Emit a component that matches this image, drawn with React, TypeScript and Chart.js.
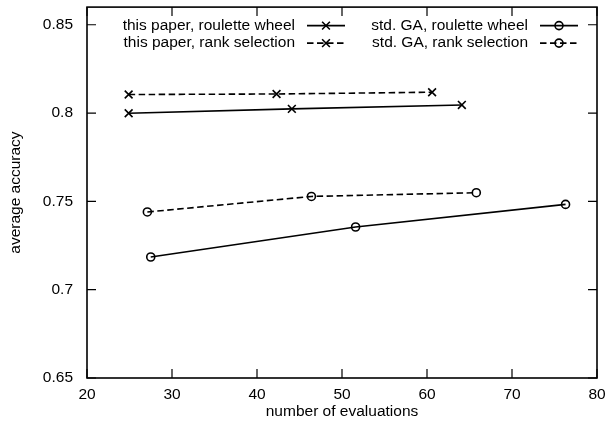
import React, { useEffect, useRef } from 'react';
import { Chart, registerables } from 'chart.js';

Chart.register(...registerables);

const seriesLabels = [
  'this paper, roulette wheel',
  'this paper, rank selection',
  'std. GA, roulette wheel',
  'std. GA, rank selection',
];
const paperRouletteX = [24.9, 44.1, 64.1];
const paperRouletteY = [0.7999, 0.8024, 0.8046];
const paperRankX = [24.9, 42.3, 60.6];
const paperRankY = [0.8105, 0.8108, 0.8118];
const gaRouletteX = [27.5, 51.6, 76.3];
const gaRouletteY = [0.7185, 0.7355, 0.7483];
const gaRankX = [27.1, 46.4, 65.8];
const gaRankY = [0.744, 0.7528, 0.7549];
const xTicks = [20, 30, 40, 50, 60, 70, 80];
const yTicks = [0.65, 0.7, 0.75, 0.8, 0.85];
const xTitle = 'number of evaluations';
const yTitle = 'average accuracy';

const FONT = '"Liberation Sans", Arial, Helvetica, sans-serif';
const FS = 15.5;
const DASH = [6.5, 3.5];

function pts(xs: number[], ys: number[]) {
  return xs.map((x, i) => ({ x, y: ys[i] }));
}

function drawMarker(ctx: CanvasRenderingContext2D, style: string, r: number, x: number, y: number) {
  ctx.beginPath();
  if (style === 'circle') {
    ctx.arc(x, y, r, 0, Math.PI * 2);
  } else {
    const d = r * Math.SQRT1_2;
    ctx.moveTo(x - d, y - d);
    ctx.lineTo(x + d, y + d);
    ctx.moveTo(x - d, y + d);
    ctx.lineTo(x + d, y - d);
  }
  ctx.stroke();
}

const framePlugin = {
  id: 'gnuFrame',
  beforeDatasetsDraw(chart: any) {
    const { ctx, chartArea: a, scales } = chart;
    const tl = 9;
    ctx.save();
    ctx.strokeStyle = '#000';
    ctx.lineWidth = 1.2;
    ctx.beginPath();
    scales.x.ticks.forEach((t: any) => {
      const px = scales.x.getPixelForValue(t.value);
      ctx.moveTo(px, a.bottom);
      ctx.lineTo(px, a.bottom - tl);
      ctx.moveTo(px, a.top);
      ctx.lineTo(px, a.top + tl);
    });
    scales.y.ticks.forEach((t: any) => {
      const py = scales.y.getPixelForValue(t.value);
      ctx.moveTo(a.left, py);
      ctx.lineTo(a.left + tl, py);
      ctx.moveTo(a.right, py);
      ctx.lineTo(a.right - tl, py);
    });
    ctx.stroke();
    ctx.lineWidth = 1.6;
    ctx.strokeRect(a.left, a.top, a.right - a.left, a.bottom - a.top);
    ctx.restore();
  },
};

const legendPlugin = {
  id: 'gnuLegend',
  afterDraw(chart: any) {
    const { ctx, chartArea: a } = chart;
    const ds = chart.data.datasets;
    const colRight = [a.left + 208, a.left + 441];
    const rowY = [a.top + 18.5, a.top + 36];
    const sampleLen = 38;
    const gap = 12;
    ctx.save();
    ctx.font = `${FS}px ${FONT}`;
    ctx.fillStyle = '#000';
    ctx.textAlign = 'right';
    ctx.textBaseline = 'middle';
    ds.forEach((d: any, i: number) => {
      const col = Math.floor(i / 2);
      const row = i % 2;
      const tx = colRight[col];
      const ty = rowY[row];
      ctx.fillText(d.label, tx, ty);
      const x0 = tx + gap;
      const x1 = x0 + sampleLen;
      ctx.strokeStyle = d.borderColor;
      ctx.lineWidth = d.borderWidth;
      ctx.setLineDash(d.borderDash || []);
      ctx.beginPath();
      ctx.moveTo(x0, ty);
      ctx.lineTo(x1, ty);
      ctx.stroke();
      ctx.setLineDash([]);
      ctx.lineWidth = d.pointBorderWidth;
      drawMarker(ctx, d.pointStyle, d.pointRadius, (x0 + x1) / 2, ty);
    });
    ctx.restore();
  },
};

export default function App() {
  const ref = useRef<HTMLCanvasElement | null>(null);

  useEffect(() => {
    if (!ref.current) return;
    const mk = (label: string, data: any[], dashed: boolean, style: string, r: number) => ({
      label,
      data,
      showLine: true,
      borderColor: '#000',
      borderWidth: 1.6,
      borderDash: dashed ? DASH : [],
      pointStyle: style,
      pointRadius: r,
      pointHoverRadius: r,
      pointBorderColor: '#000',
      pointBackgroundColor: 'rgba(0,0,0,0)',
      pointBorderWidth: 1.6,
      tension: 0,
    });
    const chart = new Chart(ref.current, {
      type: 'scatter',
      data: {
        datasets: [
          mk(seriesLabels[0], pts(paperRouletteX, paperRouletteY), false, 'crossRot', 5.5),
          mk(seriesLabels[1], pts(paperRankX, paperRankY), true, 'crossRot', 5.5),
          mk(seriesLabels[2], pts(gaRouletteX, gaRouletteY), false, 'circle', 4),
          mk(seriesLabels[3], pts(gaRankX, gaRankY), true, 'circle', 4),
        ],
      },
      options: {
        animation: false,
        responsive: true,
        maintainAspectRatio: false,
        events: [],
        layout: { padding: { top: 5, right: 17, left: 0, bottom: 0 } },
        plugins: {
          legend: { display: false },
          tooltip: { enabled: false },
        },
        scales: {
          x: {
            type: 'linear',
            min: 20,
            max: 80,
            grid: { display: false, drawTicks: false },
            border: { display: false },
            afterBuildTicks: (s: any) => {
              s.ticks = xTicks.map((v) => ({ value: v }));
            },
            afterFit: (s: any) => {
              s.height = 51;
              s.paddingLeft = 0;
              s.paddingRight = 0;
            },
            ticks: {
              color: '#000',
              padding: 7,
              maxRotation: 0,
              autoSkip: false,
              font: { family: FONT, size: FS },
              callback: (v: any) => String(v),
            },
            title: {
              display: true,
              text: xTitle,
              color: '#000',
              font: { family: FONT, size: FS },
              padding: { top: 0, bottom: 8 },
            },
          },
          y: {
            type: 'linear',
            min: 0.65,
            max: 0.86,
            grid: { display: false, drawTicks: false },
            border: { display: false },
            afterBuildTicks: (s: any) => {
              s.ticks = yTicks.map((v) => ({ value: v }));
            },
            afterFit: (s: any) => {
              s.width = 87;
              s.paddingTop = 0;
              s.paddingBottom = 0;
            },
            ticks: {
              color: '#000',
              padding: 14,
              autoSkip: false,
              font: { family: FONT, size: FS },
              callback: (v: any) => String(v),
            },
            title: {
              display: true,
              text: yTitle,
              color: '#000',
              font: { family: FONT, size: FS },
              padding: { top: 6, bottom: 0 },
            },
          },
        },
      },
      plugins: [framePlugin, legendPlugin],
    } as any);
    return () => chart.destroy();
  }, []);

  return (
    <div style={{ position: 'absolute', left: 0, top: 0, width: 614, height: 429, background: '#fff' }}>
      <canvas ref={ref} />
    </div>
  );
}
